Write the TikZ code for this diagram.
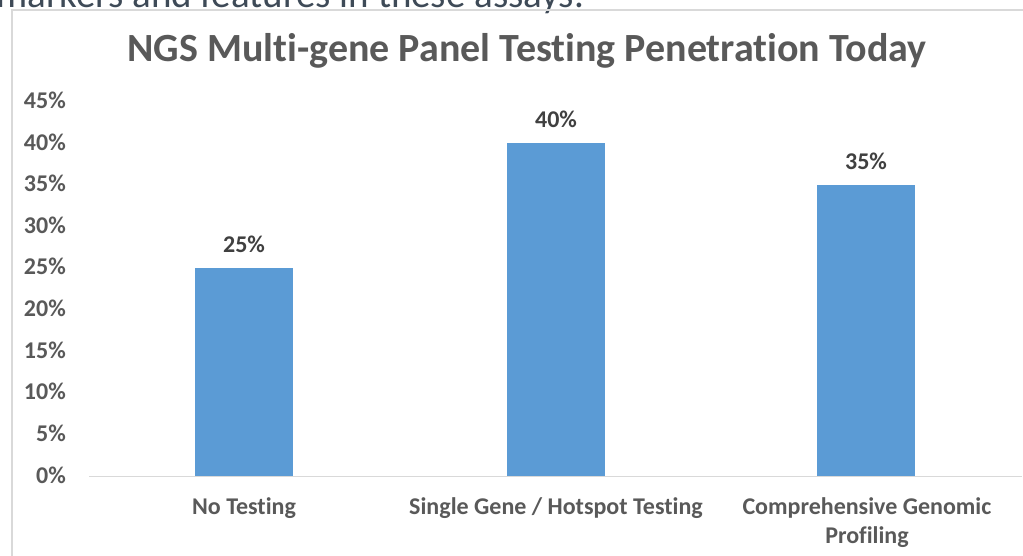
\documentclass[tikz,border=0pt]{standalone}
\usepackage{fontspec}
\setmainfont{Carlito}[Ligatures=NoCommon]
\definecolor{barblue}{HTML}{5B9BD5}
\definecolor{txtgray}{HTML}{595959}
\definecolor{lblgray}{HTML}{404040}
\definecolor{linegray}{HTML}{D9D9D9}
\definecolor{slate}{HTML}{3E4A57}
\begin{document}
\begin{tikzpicture}[x=1pt,y=-1pt,
  ticklbl/.style={anchor=base east,inner sep=0pt,text=txtgray,font=\fontsize{24}{28}\selectfont\bfseries},
  vallbl/.style={anchor=base,inner sep=0pt,text=lblgray,font=\fontsize{24}{28}\selectfont\bfseries},
  catlbl/.style={anchor=base,inner sep=0pt,text=txtgray,align=center,font=\fontsize{24}{29.5}\selectfont\bfseries},
  bar/.style={fill=barblue,draw=none},
  frameline/.style={draw=linegray,line width=1.5pt}]
\useasboundingbox (0,0) rectangle (1023,556);
\fill[white] (0,0) rectangle (1023,556);
% cut-off text above the chart
\node[anchor=base west,inner sep=0pt,text=slate,font=\fontsize{39}{44}\selectfont] (top) at (-4,8) {markers and features in these assays.};
% chart frame
\draw[frameline] (12,556) -- (12,10) -- (1023,10);
% title
\node[anchor=base,inner sep=0pt,text=txtgray,font=\fontsize{40}{48}\selectfont\bfseries] (title) at (527,62) {NGS Multi-gene Panel Testing Penetration Today};
% tick labels
\foreach \v in {0,5,...,45}{
  \node[ticklbl] (t\v) at (66,{483-8.32*\v}) {\v\%};
}
% bars
\foreach \c/\v/\n in {244/25/a,556/40/b,866/35/c}{
  \fill[bar] (\c-49,476) rectangle (\c+49,{476-8.32*\v});
  \node[vallbl] (v\n) at (\c,{476-8.32*\v-15.5}) {\v\%};
}
% axis
\coordinate (axl) at (89,476.5);
\coordinate (axr) at (1022,476.5);
\draw[draw=linegray,line width=1.5pt] (axl) -- (axr);
% category labels
\node[catlbl] (ca) at (244,514) {No Testing};
\node[catlbl] (cb) at (556,514) {Single Gene / Hotspot Testing};
\node[catlbl] (cc) at (867,543.5) {Comprehensive Genomic\\Profiling};
\end{tikzpicture}
\end{document}
